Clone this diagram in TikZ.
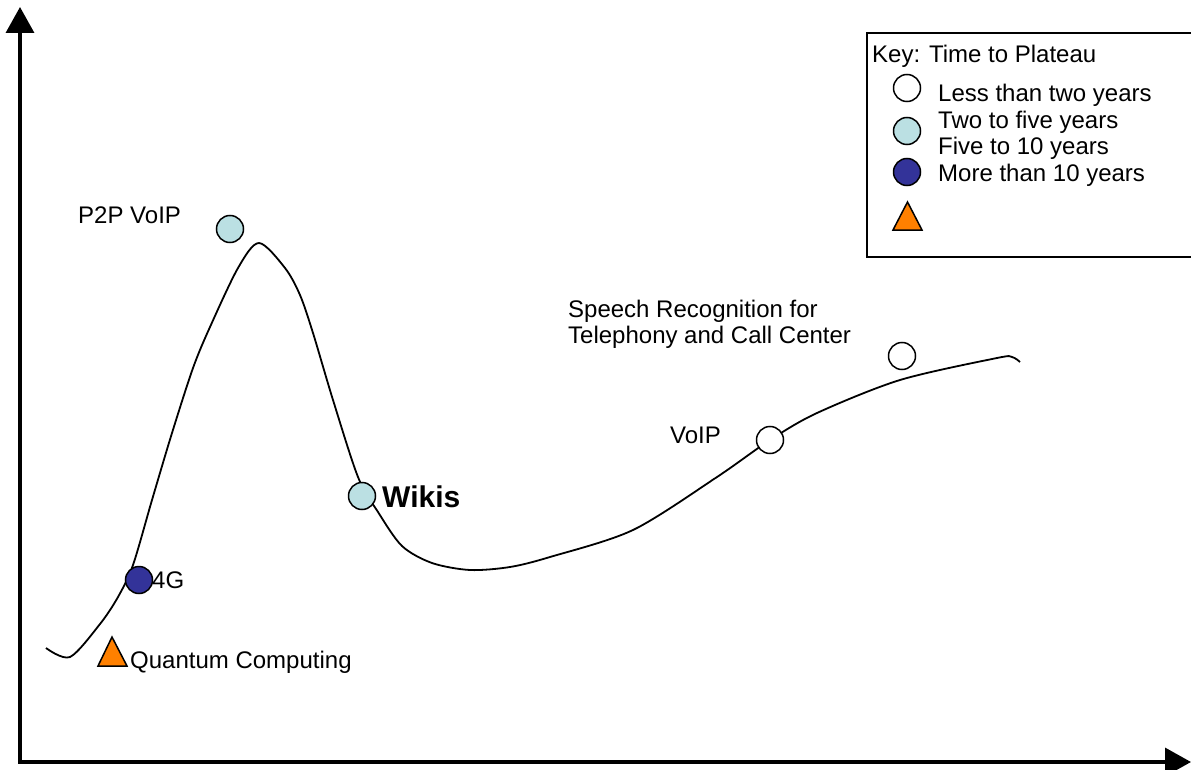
\documentclass[tikz,border=0pt]{standalone}
\usepackage{fontspec}
\setmainfont{Liberation Sans}
\usetikzlibrary{arrows.meta}
\definecolor{lcyan}{HTML}{BBE0E3}
\definecolor{dblue}{HTML}{333399}
\definecolor{orng}{HTML}{FF8000}
\tikzset{
  dot/.style={circle, draw=black, line width=1.5pt, minimum size=27pt, inner sep=0pt},
  lbl/.style={anchor=base west, inner sep=0pt, font=\fontsize{24}{26}\selectfont},
  tri/.style={draw=black, line width=1.5pt, fill=orng, line join=miter},
  axis/.style={line width=3.5pt, {Triangle[length=26pt,width=28pt]}-{Triangle[length=26pt,width=28pt]}},
}
\begin{document}
\begin{tikzpicture}[x=1pt,y=-1pt]
\useasboundingbox (0,0) rectangle (1191,770);
\fill[white] (0,0) rectangle (1191,770);
% axes
\coordinate (ytop) at (20,7);
\coordinate (origin) at (20,762);
\coordinate (xend) at (1191,762);
\draw[axis] (ytop) -- (origin) -- (xend);
% hype curve
\draw[line width=1.8pt] plot[smooth, tension=0.5] coordinates {
 (46,648) (70,657) (100,624) (118,597) (133,565) (152,500) (172,433) (193,368)
 (210,327) (238,268) (259,243) (285,268) (300,295) (313,333) (333,400) (358,477)
 (378,512) (402,546) (432,563) (470,570) (510,567) (550,557) (633,530) (717,477)
 (770,440) (817,413) (900,380) (997,358) (1012,357) (1020,362)};
% technologies
\node[dot, fill=lcyan] (p2p) at (230,229) {};
\node[lbl] (p2pt) at (78,224) {P2P VoIP};
\node[dot, fill=lcyan] (wiki) at (362,496) {};
\node[lbl, font=\fontsize{30}{32}\selectfont\bfseries] (wikit) at (382,507) {Wikis};
\node[dot, fill=dblue] (fourg) at (139,580) {};
\node[lbl] (fourgt) at (152,588) {4G};
\draw[tri] (98,666) -- (112,637) -- (127,666) -- cycle;
\node[lbl] (qct) at (130,668) {Quantum Computing};
\node[dot, fill=white] (voip) at (770,440) {};
\node[lbl] (voipt) at (670,443) {VoIP};
\node[dot, fill=white] (speech) at (902,356) {};
\node[lbl] (speecht1) at (568,317) {Speech Recognition for};
\node[lbl] (speecht2) at (568,343) {Telephony and Call Center};
% legend
\draw[line width=1.5pt] (1195,33) -- (867,33) -- (867,257) -- (1195,257);
\node[lbl] (keyt) at (872,63) {Key: Time to Plateau};
\node[dot, fill=white] (k1) at (907,88) {};
\node[dot, fill=lcyan] (k2) at (907,131) {};
\node[dot, fill=dblue] (k3) at (907,172) {};
\draw[tri] (893,230) -- (907.5,202) -- (922,230) -- cycle;
\node[lbl] (k1t) at (938,102) {Less than two years};
\node[lbl] (k2t) at (938,129) {Two to five years};
\node[lbl] (k2bt) at (938,155) {Five to 10 years};
\node[lbl] (k3t) at (938,182) {More than 10 years};
\end{tikzpicture}
\end{document}
